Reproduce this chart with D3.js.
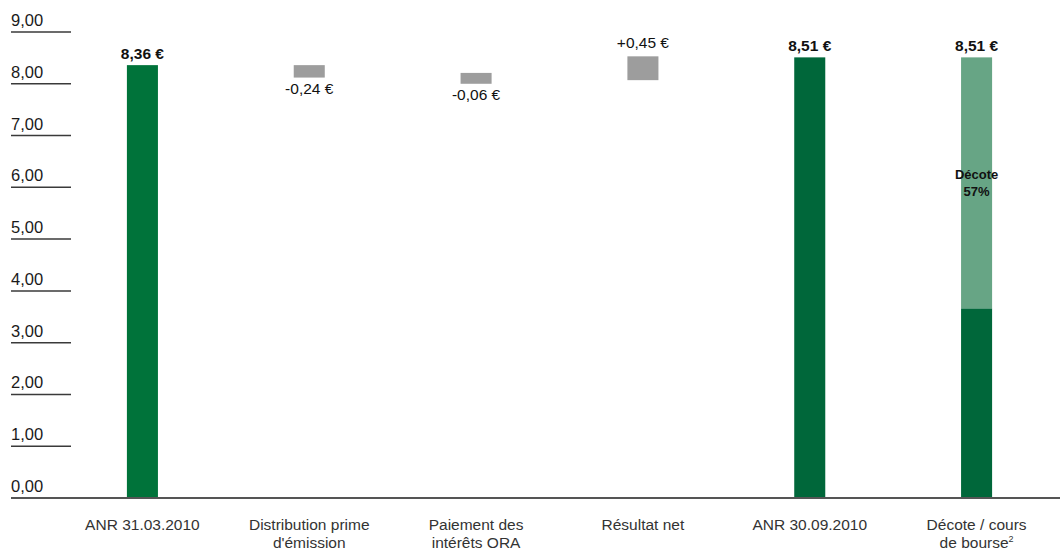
<!DOCTYPE html>
<html><head><meta charset="utf-8">
<script src="https://cdn.jsdelivr.net/npm/d3@7"></script>
<style>
html,body{margin:0;padding:0;background:#fff;}
svg{display:block;font-family:"Liberation Sans",Arial,Helvetica,sans-serif;}
</style></head>
<body><svg id="c" width="1060" height="551"></svg>
<script>
const categories = [["ANR 31.03.2010"], ["Distribution prime", "d'émission"], ["Paiement des", "intérêts ORA"], ["Résultat net"], ["ANR 30.09.2010"], ["Décote / cours", "de bourse"]];
const barLow  = [0, 8.12, 8.00, 8.07, 0, 0];
const barHigh = [8.36, 8.36, 8.21, 8.53, 8.51, 8.51];
const barKind = ["total", "neg", "neg", "pos", "total", "discount"];
const valueLabels = ["8,36 €", "-0,24 €", "-0,06 €", "+0,45 €", "8,51 €", "8,51 €"];
const sharePrice = 3.66;
const discountLabel = ["Décote", "57%"];
const yTicks = [0, 1, 2, 3, 4, 5, 6, 7, 8, 9];
const yTickLabels = ["0,00", "1,00", "2,00", "3,00", "4,00", "5,00", "6,00", "7,00", "8,00", "9,00"];

const svg = d3.select("#c");
const y = d3.scaleLinear().domain([0, 9]).range([498, 32]);
const x = d3.scaleBand().domain(d3.range(categories.length)).range([59, 1060])
  .paddingInner(0.814).paddingOuter(0.407);

// y ticks: short lines with labels above
const tg = svg.append("g");
yTicks.forEach((t, i) => {
  if (t > 0) {
    tg.append("line").attr("x1", 11).attr("x2", 71).attr("y1", y(t)).attr("y2", y(t))
      .attr("stroke", "#3a3a3a").attr("stroke-width", 1.5);
  }
  tg.append("text").attr("x", 11).attr("y", y(t) - 6).attr("font-size", 16.5)
    .attr("fill", "#1a1a1a").text(yTickLabels[i]);
});

const colorOf = (k, i) => k === "neg" || k === "pos" ? "#9d9d9d" : (i === 0 ? "#00733a" : "#00673a");

// bars
categories.forEach((c, i) => {
  const k = barKind[i];
  if (k === "discount") {
    svg.append("rect").attr("x", x(i)).attr("width", x.bandwidth())
      .attr("y", y(barHigh[i])).attr("height", y(sharePrice) - y(barHigh[i])).attr("fill", "#67a585");
    svg.append("rect").attr("x", x(i)).attr("width", x.bandwidth())
      .attr("y", y(sharePrice)).attr("height", y(barLow[i]) - y(sharePrice)).attr("fill", "#00673a");
  } else {
    svg.append("rect").attr("x", x(i)).attr("width", x.bandwidth())
      .attr("y", y(barHigh[i])).attr("height", y(barLow[i]) - y(barHigh[i])).attr("fill", colorOf(k, i));
  }
});

// value labels
categories.forEach((c, i) => {
  const k = barKind[i];
  const cx = x(i) + x.bandwidth() / 2;
  const t = svg.append("text").attr("x", cx).attr("text-anchor", "middle")
    .attr("font-size", 15.5).attr("fill", "#111").text(valueLabels[i]);
  if (k === "neg") t.attr("y", y(barLow[i]) + 16);
  else if (k === "pos") t.attr("y", y(barHigh[i]) - 8);
  else t.attr("y", y(barHigh[i]) - 6).attr("font-weight", "bold").attr("font-size", 15.5);
});

// discount label
{
  const i = 5, cx = x(i) + x.bandwidth() / 2;
  svg.append("text").attr("x", cx).attr("y", 179).attr("text-anchor", "middle")
    .attr("font-size", 13).attr("font-weight", "bold").attr("fill", "#111").text(discountLabel[0]);
  svg.append("text").attr("x", cx).attr("y", 196).attr("text-anchor", "middle")
    .attr("font-size", 13).attr("font-weight", "bold").attr("fill", "#111").text(discountLabel[1]);
}

// baseline axis
svg.append("line").attr("x1", 11).attr("x2", 1060).attr("y1", y(0)).attr("y2", y(0))
  .attr("stroke", "#555").attr("stroke-width", 2);

// category labels
categories.forEach((lines, i) => {
  const cx = x(i) + x.bandwidth() / 2;
  lines.forEach((ln, j) => {
    const t = svg.append("text").attr("x", cx).attr("y", 530 + j * 18).attr("text-anchor", "middle")
      .attr("font-size", 15.5).attr("fill", "#333").text(ln);
    if (i === 5 && j === 1) {
      t.append("tspan").attr("font-size", 9).attr("dy", -6).text("2");
    }
  });
});
</script></body></html>
